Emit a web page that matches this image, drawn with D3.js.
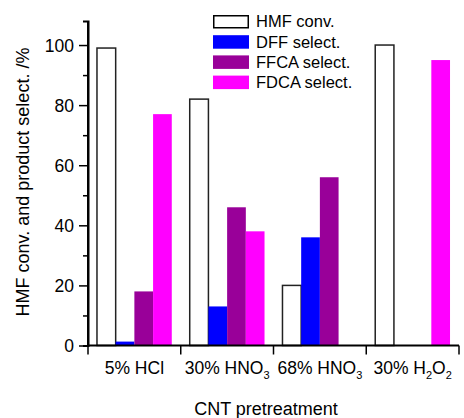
<!DOCTYPE html>
<html>
<head>
<meta charset="utf-8">
<script src="https://cdn.jsdelivr.net/npm/d3@7"></script>
<style>
  body { margin: 0; background: #fff; }
  text { font-family: Arial, "Liberation Sans", sans-serif; fill: #000; }
</style>
</head>
<body>
<svg id="chart" width="464" height="418"></svg>
<script>
// categories (name + subscript parts)
const categorias = ['5% HCl', '30% HNO3', '68% HNO3', '30% H2O2'];
const rotulos = [
    [['5% HCl', false]],
    [['30% HNO', false], ['3', true]],
    [['68% HNO', false], ['3', true]],
    [['30% H', false], ['2', true], ['O', false], ['2', true]]
];
const series = ['HMF conv.', 'DFF select.', 'FFCA select.', 'FDCA select.'];
const cores = ['#ffffff', '#0000ff', '#990099', '#ff00ff'];
const hmf = [99, 82, 20, 100];
const dff = [1.3, 13, 36, 0];
const ffca = [18, 46, 56, 0];
const fdca = [77, 38, 0, 95];
const yTicks = [0, 20, 40, 60, 80, 100];

const valores = [hmf, dff, ffca, fdca];

const svg = d3.select('#chart');

const margin = { top: 21, left: 88, right: 5, bottom: 72 };
const width = 459 - margin.left;
const height = 345.5 - margin.top;

const chart = svg.append('g')
    .attr('transform', `translate(${margin.left}, ${margin.top})`);

const xScale = d3.scaleBand()
    .range([0, width])
    .domain(categorias)
    .paddingInner(0)
    .paddingOuter(0);

const barPad = (xScale.bandwidth() - 4 * 18.7) / 2;
const xSub = d3.scaleBand()
    .range([barPad, xScale.bandwidth() - barPad])
    .domain(series);

const yScale = d3.scaleLinear()
    .range([height, 0])
    .domain([0, 108]);

/* bars */
series.forEach((s, i) => {
    chart.append('g')
        .selectAll('rect')
        .data(valores[i].map((v, j) => ({ cat: categorias[j], v: v })))
        .enter()
        .append('rect')
        .filter(d => d.v > 0)
        .attr('x', d => xScale(d.cat) + xSub(s))
        .attr('y', d => yScale(d.v))
        .attr('width', xSub.bandwidth())
        .attr('height', d => height - yScale(d.v))
        .attr('fill', cores[i])
        .attr('stroke', i === 0 ? '#222' : 'none')
        .attr('stroke-width', 1.5);
});

/* y axis */
const yAxis = chart.append('g')
    .call(d3.axisLeft(yScale).tickValues(yTicks).tickSize(9).tickPadding(5));
yAxis.append('g')
    .call(d3.axisLeft(yScale).tickValues([10, 30, 50, 70, 90]).tickSize(5).tickFormat(''));
yAxis.selectAll('.domain').attr('stroke-width', 2);
yAxis.selectAll('.tick line').attr('stroke-width', 1.5);
yAxis.selectAll('.tick text').attr('font-size', '17.5px').attr('dy', '0.35em');
yAxis.select('.domain').attr('d', `M0,0V${height}`);

/* x axis */
const xAxis = chart.append('g')
    .attr('transform', `translate(0, ${height})`);
xAxis.append('line')
    .attr('x1', 0).attr('x2', width)
    .attr('stroke', '#000').attr('stroke-width', 2);
const bordas = categorias.map(c => xScale(c)).concat([width]);
xAxis.selectAll('.tk')
    .data(bordas)
    .enter()
    .append('line')
    .attr('x1', d => d).attr('x2', d => d)
    .attr('y1', 0).attr('y2', 9)
    .attr('stroke', '#000').attr('stroke-width', 1.5);

rotulos.forEach((partes, j) => {
    const t = xAxis.append('text')
        .attr('x', xScale(categorias[j]) + xScale.bandwidth() / 2)
        .attr('y', 28)
        .attr('text-anchor', 'middle')
        .attr('font-size', '17.5px');
    partes.forEach(([txt, sub], k) => {
        const prev = k > 0 ? partes[k - 1][1] : false;
        const ts = t.append('tspan').text(txt);
        if (sub) ts.attr('font-size', '11px').attr('dy', prev ? 0 : 5);
        else if (prev) ts.attr('dy', -5);
    });
});

/* axis titles */
svg.append('text')
    .attr('x', 266)
    .attr('y', 415)
    .attr('text-anchor', 'middle')
    .attr('font-size', '18px')
    .text('CNT pretreatment');

svg.append('text')
    .attr('transform', 'translate(29, 182) rotate(-90)')
    .attr('text-anchor', 'middle')
    .attr('font-size', '18px')
    .text('HMF conv. and product select. /%');

/* legend */
const legenda = svg.append('g')
    .attr('transform', 'translate(213, 15)');
series.forEach((s, i) => {
    const row = legenda.append('g')
        .attr('transform', `translate(0, ${i * 20.2})`);
    row.append('rect')
        .attr('x', i === 0 ? 0.75 : 0)
        .attr('y', i === 0 ? 0.75 : 0)
        .attr('width', i === 0 ? 34.5 : 36)
        .attr('height', i === 0 ? 12 : 13.5)
        .attr('fill', cores[i])
        .attr('stroke', i === 0 ? '#000' : 'none')
        .attr('stroke-width', 1.5);
    row.append('text')
        .attr('x', 43)
        .attr('y', 12.3)
        .attr('font-size', '16.5px')
        .text(s);
});
</script>
</body>
</html>
